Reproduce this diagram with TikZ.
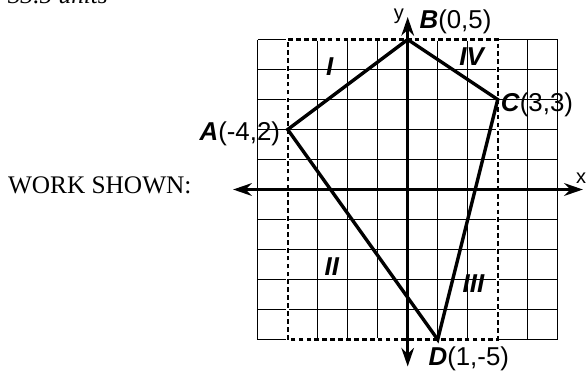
\documentclass[tikz,border=0pt]{standalone}
\usepackage{fontspec}
\setmainfont{Liberation Serif}
\setsansfont{Liberation Sans}
\usetikzlibrary{arrows.meta}
\tikzset{
  gridline/.style={line width=1.3pt},
  dashunder/.style={white, line width=2.6pt},
  dashbox/.style={line width=2pt, dash pattern=on 4.5pt off 3pt},
  axis/.style={line width=3pt, -{Stealth[length=0.62cm,width=0.42cm,inset=0.2cm]}},
  edge/.style={line width=3.2pt, line join=miter},
  ptlabel/.style={inner sep=0pt, font=\sffamily\fontsize{24.5}{28}\selectfont},
  region/.style={inner sep=0pt, font=\sffamily\bfseries\itshape\fontsize{24.5}{28}\selectfont},
  axlabel/.style={inner sep=0pt, font=\sffamily\fontsize{19}{22}\selectfont},
  serif/.style={inner sep=0pt, font=\rmfamily\fontsize{24}{28}\selectfont}
}
\begin{document}
\begin{tikzpicture}
\useasboundingbox (-13.59,-6.117) rectangle (5.943,6.317);
% grid
\draw[gridline] (-5,-5) grid (5,5);
% dashed rectangle
\draw[dashunder] (-4,-5) rectangle (3,5);
\draw[dashbox] (-4,-5) rectangle (3,5);
% axes
\coordinate (O) at (0,0);
\coordinate (xl) at (-5.82,0);
\coordinate (xr) at (5.84,0);
\coordinate (yb) at (0,-5.9);
\coordinate (yt) at (0,5.75);
\draw[axis] (O) -- (xr);
\draw[axis] (O) -- (xl);
\draw[axis] (O) -- (yt);
\draw[axis] (O) -- (yb);
% vertices
\coordinate (A) at (-4,2);
\coordinate (B) at (0,5);
\coordinate (C) at (3,3);
\coordinate (D) at (1,-5);
\draw[edge] (A) -- (B) -- (C) -- (D) -- cycle;
% labels
\node[ptlabel, anchor=base west] (lB) at (0.39,5.38) {\textbf{\textit{B}}(0,5)};
\node[ptlabel, anchor=base west] (lC) at (3.1,2.59) {\textbf{\textit{C}}(3,3)};
\node[ptlabel, anchor=base east] (lA) at (-4.25,1.65) {\textbf{\textit{A}}(-4,2)};
\node[ptlabel, anchor=base west] (lD) at (0.69,-5.85) {\textbf{\textit{D}}(1,-5)};
\node[axlabel, anchor=base] (ly) at (-0.29,5.68) {y};
\node[axlabel] (lx) at (5.78,0.37) {x};
\node[region] (r1) at (-2.6,4.08) {I};
\node[region] (r4) at (2.13,4.43) {IV};
\node[region] (r2) at (-2.53,-2.57) {II};
\node[region] (r3) at (2.19,-3.13) {III};
\node[serif, anchor=west] (ws) at (-13.33,0.13) {WORK SHOWN:};
\node[serif, anchor=base west, font=\rmfamily\itshape\fontsize{24}{28}\selectfont] (units) at (-13.33,6.2) {33.5 units};
\end{tikzpicture}
\end{document}
